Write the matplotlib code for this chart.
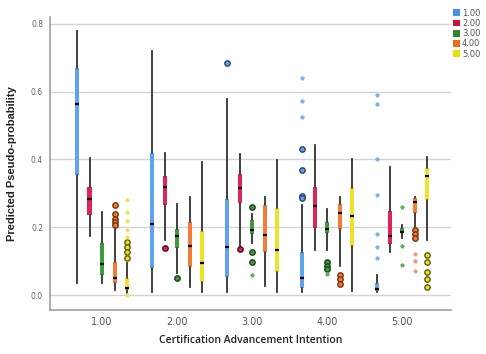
import matplotlib
matplotlib.use("Agg")
import matplotlib.pyplot as plt
from matplotlib.patches import Patch

# Gruppen auf der x-Achse und Legendenkategorien
groups = ["1.00", "2.00", "3.00", "4.00", "5.00"]
series = ["1.00", "2.00", "3.00", "4.00", "5.00"]

# Boxplot-Kennwerte je Serie: [whislo, q1, med, q3, whishi] pro Gruppe
blue_stats = [[0.035, 0.354, 0.563, 0.670, 0.780],
              [0.010, 0.080, 0.209, 0.420, 0.720],
              [0.008, 0.054, 0.141, 0.283, 0.577],
              [0.009, 0.020, 0.050, 0.126, 0.265],
              [0.010, 0.012, 0.018, 0.035, 0.059]]
red_stats = [[0.174, 0.236, 0.283, 0.318, 0.404],
             [0.162, 0.265, 0.318, 0.350, 0.420],
             [0.140, 0.271, 0.316, 0.357, 0.416],
             [0.133, 0.197, 0.262, 0.319, 0.442],
             [0.126, 0.152, 0.175, 0.249, 0.378]]
green_stats = [[0.035, 0.059, 0.091, 0.153, 0.245],
               [0.065, 0.138, 0.175, 0.194, 0.268],
               [0.153, 0.180, 0.192, 0.221, 0.238],
               [0.133, 0.182, 0.194, 0.216, 0.253],
               [0.170, 0.182, 0.187, 0.197, 0.206]]
orange_stats = [[0.015, 0.035, 0.050, 0.097, 0.200],
                [0.023, 0.083, 0.145, 0.216, 0.290],
                [0.027, 0.127, 0.177, 0.265, 0.290],
                [0.086, 0.194, 0.241, 0.270, 0.290],
                [0.200, 0.242, 0.275, 0.286, 0.290]]
yellow_stats = [[0.005, 0.015, 0.022, 0.050, 0.094],
                [0.008, 0.040, 0.094, 0.190, 0.392],
                [0.008, 0.068, 0.133, 0.256, 0.398],
                [0.013, 0.146, 0.234, 0.317, 0.400],
                [0.162, 0.280, 0.352, 0.374, 0.408]]

# Ausreisser (Kreise) je Serie und Gruppe
blue_out = [[], [], [0.685], [0.431, 0.369, 0.292, 0.287], []]
red_out = [[], [0.138], [0.135], [], []]
green_out = [[], [0.050], [0.259, 0.127, 0.097], [0.098, 0.087, 0.077], []]
orange_out = [[0.265, 0.238, 0.226, 0.216, 0.208], [], [], [0.059, 0.047, 0.033],
              [0.192, 0.181, 0.170]]
yellow_out = [[0.156, 0.142, 0.127, 0.109], [], [], [], [0.118, 0.098, 0.068, 0.047, 0.024]]

# Extremwerte (Sternchen)
blue_ext = [[], [], [], [0.640, 0.572, 0.525], [0.590, 0.563, 0.400, 0.294, 0.179, 0.142, 0.110]]
red_ext = [[], [], [], [], []]
green_ext = [[], [], [0.059], [0.062], [0.259, 0.145, 0.090]]
orange_ext = [[], [], [], [], [0.120, 0.100, 0.070]]
yellow_ext = [[0.280, 0.245, 0.218, 0.192, 0.171, 0.000], [], [], [], []]

all_stats = [blue_stats, red_stats, green_stats, orange_stats, yellow_stats]
all_out = [blue_out, red_out, green_out, orange_out, yellow_out]
all_ext = [blue_ext, red_ext, green_ext, orange_ext, yellow_ext]

box_cols = ["#5fa3ee", "#e0245a", "#3a9e3a", "#f47c36", "#eee22a"]
edge_cols = ["#2f4f7a", "#5a1020", "#1f4a1f", "#7a3a10", "#6a6410"]
star_cols = ["#7ab4f5", "#e86080", "#5fb05f", "#f29a8a", "#eee25a"]
legend_cols = ["#4a90e2", "#d0103a", "#2a8a2a", "#f06a20", "#e8e000"]

fig = plt.figure(figsize=(4.86, 3.54), dpi=100)
ax = fig.add_axes([0.103, 0.124, 0.825, 0.828])

offsets = [-0.333, -0.167, 0.0, 0.167, 0.333]
for s in range(5):
    stats = []
    pos = []
    for g in range(5):
        lo, q1, med, q3, hi = all_stats[s][g]
        stats.append(dict(whislo=lo, q1=q1, med=med, q3=q3, whishi=hi, fliers=[]))
        pos.append(g + 1 + offsets[s])
    ax.bxp(stats, positions=pos, widths=0.055, patch_artist=True, showcaps=False,
           boxprops=dict(facecolor=box_cols[s], edgecolor="none"),
           whiskerprops=dict(color="#3a3a3a", lw=1.1),
           medianprops=dict(color="black", lw=1.6), zorder=3)
    # Whiskerlinie durch die Box
    for g in range(5):
        lo, q1, med, q3, hi = all_stats[s][g]
        x = g + 1 + offsets[s]
        ax.plot([x, x], [lo, hi], color="#3a3a3a", lw=1.1, zorder=2)
        if all_out[s][g]:
            ax.plot([x] * len(all_out[s][g]), all_out[s][g], "o", ms=3.8,
                    mfc=box_cols[s], mec=edge_cols[s], mew=1.1, zorder=4)
        if all_ext[s][g]:
            ax.plot([x] * len(all_ext[s][g]), all_ext[s][g], "*", ms=2.8,
                    color=star_cols[s], zorder=4)

ax.set_xlim(0.307, 5.65)
ax.set_ylim(-0.044, 0.82)
ax.set_xticks(range(1, 6))
ax.set_xticklabels(groups, fontsize=7, color="#555555")
ax.set_yticks([0.0, 0.2, 0.4, 0.6, 0.8])
ax.set_yticklabels(["0.0", "0.2", "0.4", "0.6", "0.8"], fontsize=5.5, color="#666666")
ax.tick_params(length=0, pad=5)
ax.yaxis.grid(True, color="#d4d4d4", lw=1.0)
ax.set_axisbelow(True)
for sp in ["top", "right"]:
    ax.spines[sp].set_visible(False)
for sp in ["left", "bottom"]:
    ax.spines[sp].set_color("#a0a0a0")
    ax.spines[sp].set_linewidth(1.2)

ax.set_ylabel("Predicted Pseudo-probability", fontsize=8, fontweight="bold",
              family="Liberation Sans", color="#222222", labelpad=10)
ax.set_xlabel("Certification Advancement Intention", fontsize=7.5, fontweight="semibold",
              family="Open Sans", color="#222222", labelpad=6)

handles = [Patch(facecolor=c, edgecolor="none") for c in legend_cols]
fig.legend(handles, series, loc="upper left", bbox_to_anchor=(0.925, 0.985),
           frameon=False, fontsize=6, handlelength=0.9, handleheight=0.9,
           handletextpad=0.2, labelspacing=0.15, labelcolor="#555555",
           borderaxespad=0)

fig.savefig("out.png", dpi=100)
